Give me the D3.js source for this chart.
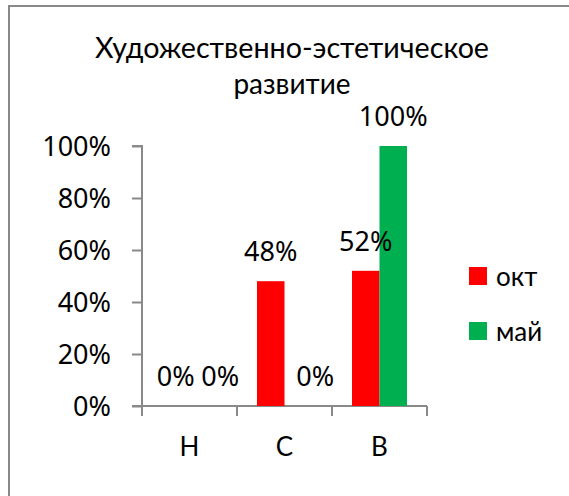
<!DOCTYPE html>
<html>
<head>
<meta charset="utf-8">
<script src="https://cdn.jsdelivr.net/npm/d3@7"></script>
<style>
  html, body { margin: 0; padding: 0; background: #fff; }
  svg { display: block; }
  text { font-family: Lato, "Open Sans", sans-serif; fill: #000; }
</style>
</head>
<body>
<svg id="chart" width="569" height="496"></svg>
<script>
const titleLines = ["Художественно-эстетическое", "развитие"];
const categories = ["Н", "С", "В"];
const seriesNames = ["окт", "май"];
const seriesColors = ["#FF0000", "#00B050"];
const valuesOkt = [0, 48, 52];
const valuesMay = [0, 0, 100];
const yTicks = [0, 20, 40, 60, 80, 100];

const series = [valuesOkt, valuesMay];
const svg = d3.select("#chart");
const axisColor = "#898989";
const fontSize = 26;
const numFont = "'Noto Sans', 'Open Sans', sans-serif";
const numSize = 27;

// outer chart border (cropped at right/bottom)
svg.append("rect")
  .attr("x", 9).attr("y", 6)
  .attr("width", 600).attr("height", 520)
  .attr("fill", "none")
  .attr("stroke", axisColor)
  .attr("stroke-width", 2);

const plot = { left: 142, right: 427, top: 146, bottom: 406 };

const x = d3.scaleBand().domain(categories).range([plot.left, plot.right]).padding(0);
const xInner = d3.scaleBand().domain(d3.range(seriesNames.length))
  .range([20, x.bandwidth() - 20]).padding(0);
const y = d3.scaleLinear().domain([0, 100]).range([plot.bottom, plot.top]);

// title
const title = svg.append("g").selectAll("text").data(titleLines).join("text")
  .attr("x", 292)
  .attr("y", (d, i) => 58 + i * 36)
  .attr("text-anchor", "middle")
  .style("font-size", "28px")
  .text(d => d);
title.filter((d, i) => i === 0)
  .attr("textLength", 394)
  .attr("lengthAdjust", "spacingAndGlyphs");

// y axis
const yAxis = d3.axisLeft(y).tickValues(yTicks).tickFormat(d => d + "%").tickSize(10).tickPadding(21);
const gy = svg.append("g").attr("transform", `translate(${plot.left},0)`).call(yAxis);
gy.select(".domain").attr("stroke", axisColor).attr("stroke-width", 2)
  .attr("d", `M-10,${plot.top}H0V${plot.bottom + 10}`);
gy.selectAll(".tick line").attr("stroke", axisColor).attr("stroke-width", 2);
gy.selectAll(".tick text").style("font-size", numSize + "px").style("font-family", numFont)
  .attr("fill", "#000").attr("dy", "0.36em");

// x axis
const xAxis = d3.axisBottom(x).tickSize(0).tickPadding(32);
const gx = svg.append("g").attr("transform", `translate(0,${plot.bottom})`).call(xAxis);
gx.select(".domain").attr("stroke", axisColor).attr("stroke-width", 2)
  .attr("d", `M${plot.left - 10},0H${plot.right}`);
gx.selectAll(".tick text").style("font-size", fontSize + "px").style("font-family", "Lato, sans-serif")
  .attr("fill", "#000").attr("dy", "0.71em");
// category separator ticks
const boundaries = categories.map(c => x(c)).concat([plot.right]);
gx.selectAll("line.sep").data(boundaries).join("line")
  .attr("class", "sep")
  .attr("x1", d => d).attr("x2", d => d)
  .attr("y1", 0).attr("y2", 10)
  .attr("stroke", axisColor).attr("stroke-width", 2);

// bars and labels
const flat = [];
categories.forEach((c, ci) => {
  series.forEach((s, si) => flat.push({ c, si, v: s[ci] }));
});

svg.append("g").selectAll("rect").data(flat.filter(d => d.v > 0)).join("rect")
  .attr("x", d => x(d.c) + xInner(d.si))
  .attr("y", d => y(d.v))
  .attr("width", xInner.bandwidth())
  .attr("height", d => plot.bottom - y(d.v))
  .attr("fill", d => seriesColors[d.si]);

// zero-value labels of the second series sit nudged right (as in the original)
const zeroShift = 17;
svg.append("g").selectAll("text").data(flat).join("text")
  .attr("x", d => x(d.c) + xInner(d.si) + xInner.bandwidth() / 2 + (d.v === 0 && d.si === 1 ? zeroShift : 0))
  .attr("y", d => y(d.v) - 20)
  .attr("text-anchor", "middle")
  .style("font-size", numSize + "px")
  .style("font-family", numFont)
  .text(d => d.v + "%");

// legend
const legend = svg.append("g").selectAll("g").data(seriesNames).join("g")
  .attr("transform", (d, i) => `translate(469,${267 + i * 55})`);
legend.append("rect").attr("width", 18).attr("height", 18)
  .attr("fill", (d, i) => seriesColors[i]);
legend.append("text").attr("x", 27).attr("y", 19)
  .style("font-size", fontSize + "px")
  .text(d => d);
</script>
</body>
</html>
